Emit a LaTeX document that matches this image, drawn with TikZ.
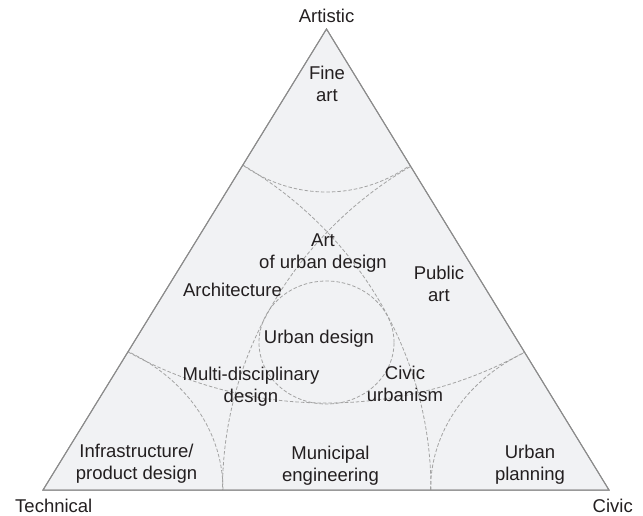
\documentclass[tikz,border=0pt]{standalone}
\usepackage{fontspec}
\setmainfont{Liberation Sans}
\definecolor{triFill}{HTML}{F1F2F4}
\definecolor{triLine}{HTML}{8C8C8C}
\definecolor{dashc}{HTML}{A3A3A3}
\definecolor{textc}{HTML}{231F20}
\tikzset{
  zone/.style={fill=triFill, draw=triLine, line width=1pt, line join=miter},
  divider/.style={draw=dashc, line width=0.8pt, dash pattern=on 3.5pt off 2pt},
  lbl/.style={inner sep=0pt, align=center, text=textc, font=\fontsize{18.5}{22.2}\selectfont},
}
\begin{document}
\begin{tikzpicture}[x=1pt, y=-1pt]
\useasboundingbox (0,0) rectangle (643,515);
\coordinate (A) at (326.5,29);
\coordinate (B) at (43,490);
\coordinate (C) at (609,490);
\coordinate (M) at (326.5,342.5);
\path[zone] (A) -- (B) -- (C) -- cycle;
\begin{scope}
  \clip (A) -- (B) -- (C) -- cycle;
  \draw[divider] (A) ellipse [x radius=152pt, y radius=163pt];
  \draw[divider] (A) ellipse [x radius=393pt, y radius=374pt];
  \draw[divider] (B) ellipse [x radius=180pt, y radius=157pt];
  \draw[divider] (B) ellipse [x radius=388pt, y radius=379pt];
  \draw[divider] (C) ellipse [x radius=178.5pt, y radius=156pt];
  \draw[divider] (C) ellipse [x radius=386.5pt, y radius=377pt];
  \draw[divider] (M) ellipse [x radius=67.5pt, y radius=61.5pt];
\end{scope}
\draw[zone, fill=none] (A) -- (B) -- (C) -- cycle;
% corner labels
\node[lbl, anchor=base] (artistic) at (326.5,22.7) {Artistic};
\node[lbl, anchor=base west] (technical) at (15,512) {Technical};
\node[lbl, anchor=base east] (civic) at (633,512) {Civic};
% region labels
\node[lbl] (fineart) at (327,86.2) {\strut Fine\\\strut art};
\node[lbl] (artud) at (323,252.7) {\strut Art\\\strut of urban design};
\node[lbl, anchor=base] (arch) at (232.5,296) {Architecture};
\node[lbl] (publicart) at (439,285.7) {\strut Public\\\strut art};
\node[lbl, anchor=base] (urbandesign) at (319,343) {Urban design};
\node[lbl] (multi) at (251,387.4) {\strut Multi-disciplinary\\\strut design};
\node[lbl] (civicurb) at (405,385.7) {\strut Civic\\\strut urbanism};
\node[lbl] (infra) at (136.5,464.2) {\strut Infrastructure/\\\strut product design};
\node[lbl] (municipal) at (330.5,465.7) {\strut Municipal\\\strut engineering};
\node[lbl] (planning) at (530,465.2) {\strut Urban\\\strut planning};
\end{tikzpicture}
\end{document}
